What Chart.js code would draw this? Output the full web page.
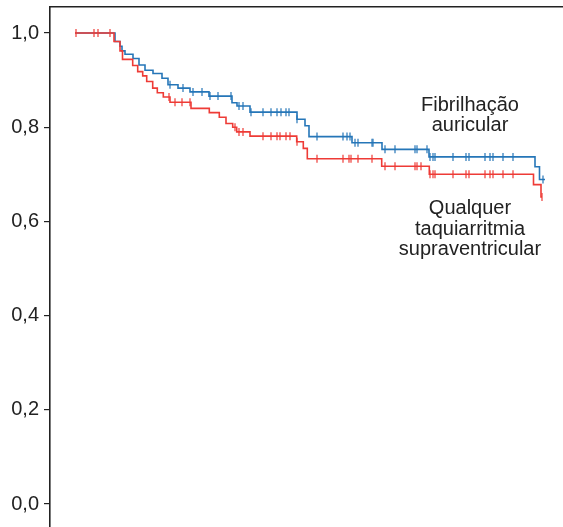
<!DOCTYPE html>
<html>
<head>
<meta charset="utf-8">
<script src="https://cdn.jsdelivr.net/npm/chart.js@4/dist/chart.umd.min.js"></script>
<style>
  html, body { margin: 0; padding: 0; background: #fff; }
</style>
</head>
<body>
<canvas id="km" width="563" height="527"></canvas>
<script>
// Curvas de sobrevida (Kaplan-Meier) - valores lidos da figura
// tempo em unidades arbitrarias (eixo X sem rotulos)

const fibTempos = [25, 65, 70, 72, 75, 83, 89, 95, 103, 112, 118, 128, 140, 159, 182, 187, 200, 247, 255, 259, 302, 332, 379, 485, 489.5, 495];
const fibSobrev = [1.000, 0.982, 0.972, 0.962, 0.955, 0.946, 0.932, 0.921, 0.914, 0.904, 0.890, 0.883, 0.875, 0.866, 0.852, 0.845, 0.832, 0.817, 0.803, 0.780, 0.767, 0.753, 0.737, 0.716, 0.689, 0.689];
const fibCensura = [120, 133, 143, 152, 160, 168, 181, 189, 193, 201, 213, 221, 227, 231, 236, 239, 247, 267, 293, 297, 300, 305, 308, 322, 323, 335, 345, 365, 367, 377, 380, 383, 385, 403, 416, 419, 435, 440, 443, 453, 463, 493];

const taqTempos = [25, 64, 70, 72.5, 82.7, 87.7, 92.7, 96.7, 102.7, 107.3, 113.3, 120, 141, 159.3, 169.3, 176, 182.7, 186.7, 200, 246.7, 253.3, 257.3, 331.7, 379.3, 483.5, 491, 492];
const taqSobrev = [1.000, 0.982, 0.962, 0.944, 0.931, 0.918, 0.909, 0.897, 0.883, 0.873, 0.864, 0.853, 0.840, 0.831, 0.821, 0.808, 0.800, 0.790, 0.781, 0.769, 0.755, 0.733, 0.717, 0.700, 0.678, 0.652, 0.652];
const taqCensura = [26, 44, 48, 60, 119, 125, 132, 140, 185, 189, 193, 213, 221, 227, 230, 236, 240, 247, 267, 293, 299, 301, 308, 322, 335, 345, 365, 367, 371, 380, 383, 385, 403, 416, 419, 435, 440, 443, 453, 463, 492];

const yTicks = [0, 0.2, 0.4, 0.6, 0.8, 1.0];

const AZUL = '#2576b8';
const VERMELHO = '#ee3b36';

// valor da curva num instante (funcao em degrau)
function nivel(tempos, sobrev, t) {
    let s = sobrev[0];
    for (let i = 0; i < tempos.length; i++) {
        if (tempos[i] <= t) s = sobrev[i];
    }
    return s;
}

function curva(tempos, sobrev) {
    return tempos.map((t, i) => ({ x: t, y: sobrev[i] }));
}

function censuras(tempos, sobrev, cens) {
    return cens.map(t => ({ x: t, y: nivel(tempos, sobrev, t) }));
}

const rotulos = {
    id: 'rotulos',
    afterDraw(chart) {
        const ctx = chart.ctx;
        ctx.save();
        ctx.fillStyle = '#222';
        ctx.font = '20px "Liberation Sans", Arial, sans-serif';
        ctx.textAlign = 'center';
        ctx.textBaseline = 'alphabetic';
        ctx.fillText('Fibrilhação', 470, 111);
        ctx.fillText('auricular', 470, 131);
        ctx.fillText('Qualquer', 470, 214);
        ctx.fillText('taquiarritmia', 470, 235);
        ctx.fillText('supraventricular', 470, 255);
        ctx.restore();
    }
};

const censorStyle = {
    showLine: false,
    pointStyle: 'line',
    pointRotation: 90,
    pointRadius: 4,
    pointHoverRadius: 4,
    pointBorderWidth: 1.2
};

// sem folgas extra dos rotulos - area do grafico encostada as margens
function semFolga(scale) {
    scale.paddingTop = 0;
    scale.paddingBottom = 0;
    scale.paddingLeft = 0;
    scale.paddingRight = 0;
}

new Chart(document.getElementById('km'), {
    type: 'line',
    data: {
        datasets: [
            {
                data: censuras(taqTempos, taqSobrev, taqCensura),
                borderColor: VERMELHO,
                pointBorderColor: VERMELHO,
                order: 0,
                ...censorStyle
            },
            {
                data: curva(taqTempos, taqSobrev),
                borderColor: VERMELHO,
                borderWidth: 1.6,
                stepped: 'before',
                pointRadius: 0,
                order: 1
            },
            {
                data: censuras(fibTempos, fibSobrev, fibCensura),
                borderColor: AZUL,
                pointBorderColor: AZUL,
                order: 2,
                ...censorStyle
            },
            {
                data: curva(fibTempos, fibSobrev),
                borderColor: AZUL,
                borderWidth: 1.6,
                stepped: 'before',
                pointRadius: 0,
                order: 3
            }
        ]
    },
    options: {
        responsive: false,
        animation: false,
        layout: { autoPadding: false, padding: { top: 7, left: 0, right: 0, bottom: 0 } },
        plugins: {
            legend: { display: false },
            tooltip: { enabled: false }
        },
        scales: {
            x: {
                type: 'linear',
                position: 'top',
                min: 0,
                max: 513,
                ticks: { display: false },
                grid: { display: false },
                border: { display: true, color: '#222', width: 1.6 },
                afterFit(scale) { scale.height = 0; semFolga(scale); }
            },
            y: {
                min: -0.0488,
                max: 1.0552,
                afterBuildTicks(scale) {
                    scale.ticks = yTicks.map(v => ({ value: v }));
                },
                ticks: {
                    padding: 5,
                    color: '#222',
                    font: { family: '"Liberation Sans", Arial, sans-serif', size: 20 },
                    callback: v => v.toFixed(1).replace('.', ',')
                },
                grid: {
                    drawOnChartArea: false,
                    drawTicks: true,
                    tickLength: 6,
                    color: '#222',
                    lineWidth: 1.2
                },
                border: { display: true, color: '#222', width: 1.6 },
                afterFit(scale) { scale.width = 50; semFolga(scale); }
            }
        }
    },
    plugins: [rotulos]
});
</script>
</body>
</html>
